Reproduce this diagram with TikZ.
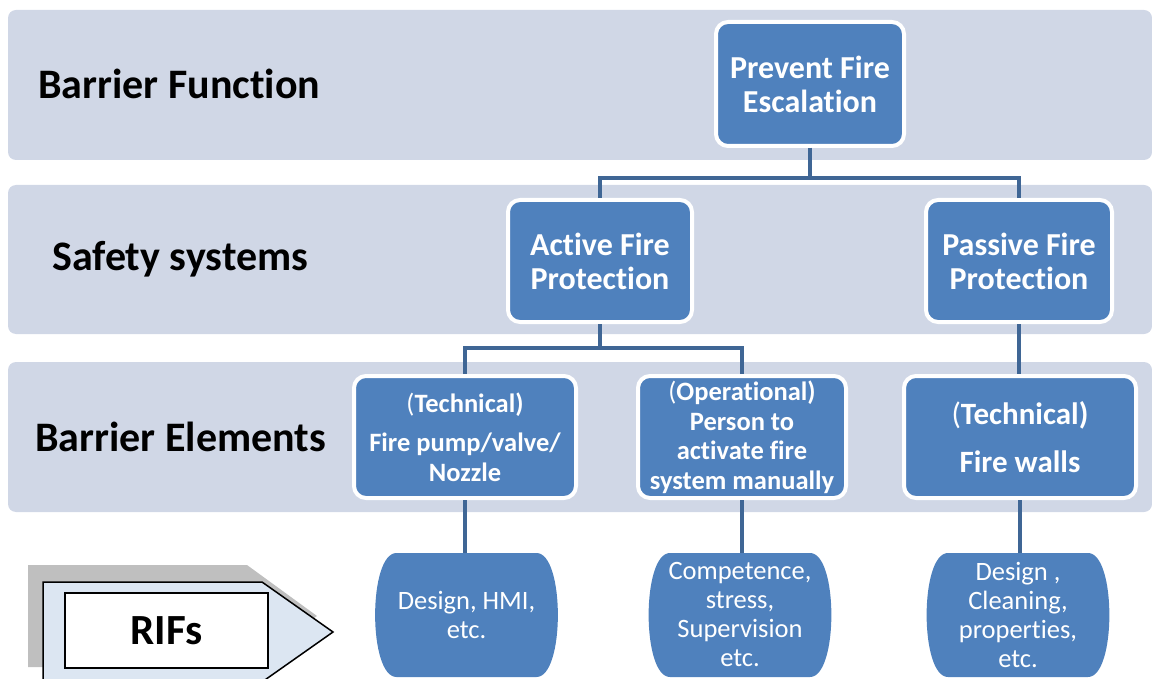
\documentclass[tikz,border=0pt]{standalone}
\usepackage{fontspec}
\setmainfont[Ligatures=NoCommon]{Carlito}
\definecolor{band}{HTML}{D0D7E6}
\definecolor{boxblue}{HTML}{4F81BD}
\definecolor{conn}{HTML}{3F6695}
\definecolor{arrowfill}{HTML}{DCE6F2}
\definecolor{shadowgrey}{HTML}{BFBFBF}
\newcommand\mybarrel[3]{%
  \fill[boxblue] (#1-70,#2) -- (#1+70,#2) .. controls (#1+98.5,#2) and (#1+98.5,#3) .. (#1+70,#3)
    -- (#1-70,#3) .. controls (#1-98.5,#3) and (#1-98.5,#2) .. (#1-70,#2) -- cycle;}
\begin{document}
\begin{tikzpicture}[x=1pt,y=-1pt,
  bandbox/.style={fill=band, rounded corners=8pt},
  bluebox/.style={draw=white, line width=4pt, fill=boxblue, rounded corners=12pt, text=white,
    font=\bfseries\fontsize{32}{34}\selectfont, align=center, inner sep=0pt},
  elemfont/.style={font=\bfseries\fontsize{26.5}{29.5}\selectfont},
  bandlabel/.style={font=\bfseries\fontsize{42}{46}\selectfont, anchor=west, inner sep=0pt},
  conline/.style={draw=conn, line width=4pt},
  riftext/.style={text=white, align=center, font=\fontsize{26.5}{29}\selectfont, inner sep=0pt}
]
\useasboundingbox (0,0) rectangle (1152,679);
% bands
\path[bandbox] (8,10) rectangle (1152,160);
\path[bandbox] (8,185) rectangle (1152,334);
\path[bandbox] (8,362) rectangle (1152,512);
% band labels
\node[bandlabel] (lf) at (38,84) {Barrier Function};
\node[bandlabel] (ls) at (52,259) {Safety systems};
\node[bandlabel] (le) at (35,437) {Barrier Elements};
% boxes
\node[bluebox, minimum width=188, minimum height=124] (top) at (810,84) {Prevent Fire\\Escalation};
\node[bluebox, minimum width=184, minimum height=122] (act) at (600,261) {Active Fire\\Protection};
\node[bluebox, minimum width=186, minimum height=122] (pas) at (1019,261) {Passive Fire\\Protection};
\node[bluebox, elemfont, minimum width=222, minimum height=122] (tech) at (465,437)
  {{\mdseries(}Technical)\\[10pt]Fire pump/valve/\\Nozzle};
\node[bluebox, elemfont, minimum width=208, minimum height=122] (oper) at (742,437)
  {{\mdseries(}Operational)\\Person to\\activate fire\\system manually};
\node[bluebox, font=\bfseries\fontsize{31}{34}\selectfont, minimum width=232, minimum height=122] (walls) at (1020,437)
  {{\mdseries(}Technical)\\[14pt]Fire walls};
% RIF shapes
\mybarrel{466.5}{553}{677}
\mybarrel{740}{553}{677}
\mybarrel{1018}{553}{677}
\node[riftext, minimum width=183, minimum height=124] (rif1) at (466.5,615) {Design, HMI,\\etc.};
\node[riftext, minimum width=183, minimum height=124] (rif2) at (740,615) {Competence,\\stress,\\Supervision\\etc.};
\node[riftext, minimum width=183, minimum height=124] (rif3) at (1018,615) {Design ,\\Cleaning,\\properties,\\etc.};
% connectors
\draw[conline] (top.south) -- (top.south |- 0,178) -| (act.north);
\draw[conline] (top.south) -- (top.south |- 0,178) -| (pas.north);
\draw[conline] (act.south) -- (act.south |- 0,348) -| (tech.north);
\draw[conline] (act.south) -- (act.south |- 0,348) -| (oper.north);
\draw[conline] (pas.south) -- (walls.north -| pas.south);
\draw[conline] (tech.south) -- (tech.south |- rif1.north);
\draw[conline] (oper.south) -- (oper.south |- rif2.north);
\draw[conline] (walls.south) -- (walls.south |- rif3.north);
% RIFs arrow
\fill[shadowgrey] (28,565) -- (247,565) -- (317,616) -- (247,667) -- (28,667) -- cycle;
\draw[fill=arrowfill, line width=1.5pt] (43,582) -- (262,582) -- (333,632) -- (262,682) -- (43,682) -- cycle;
\node[draw=black, fill=white, line width=1.5pt, minimum width=203, minimum height=75,
  font=\bfseries\fontsize{43}{46}\selectfont, inner sep=0pt] (rifs) at (166.5,630.5) {RIFs};
\end{tikzpicture}
\end{document}
